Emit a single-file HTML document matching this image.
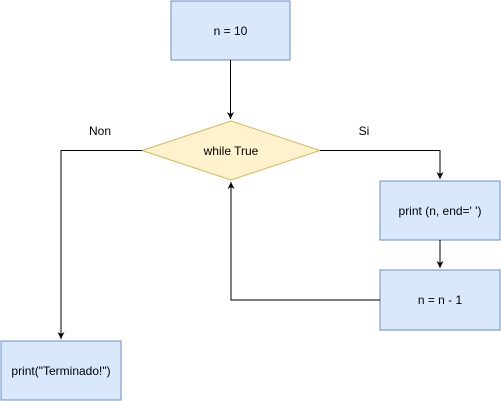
<!DOCTYPE html>
<html><head><style>html,body{margin:0;padding:0;background:#fff;}</style></head><body>
<svg width="501" height="401" xmlns="http://www.w3.org/2000/svg" style="display:block">
<defs><marker id="a" markerWidth="8" markerHeight="8" refX="7" refY="4" orient="auto" markerUnits="userSpaceOnUse"><path d="M0,0.5 L7,4 L0,7.5 L2,4 Z" fill="#000"/></marker></defs>
<g font-family="Liberation Sans, sans-serif" font-size="12" text-anchor="middle">
<rect x="171" y="1" width="119" height="59" fill="#dae8fc" stroke="#6c8ebf"/>
<text x="230.5" y="35">n = 10</text>
<polygon points="231,121 320,150.5 231,180 142,150.5" fill="#fff2cc" stroke="#d6b656"/>
<text x="231" y="155">while True</text>
<rect x="380" y="181" width="120" height="59" fill="#dae8fc" stroke="#6c8ebf"/>
<text x="440" y="215">print (n, end=' ')</text>
<rect x="380" y="270" width="120" height="60" fill="#dae8fc" stroke="#6c8ebf"/>
<text x="440" y="304">n = n - 1</text>
<rect x="1" y="341" width="120" height="59" fill="#dae8fc" stroke="#6c8ebf"/>
<text x="61" y="375">print("Terminado!")</text>
<text x="100" y="135">Non</text>
<text x="364" y="135">Si</text>
</g>
<g stroke="#000" fill="none">
<path d="M230.5 60 V119" marker-end="url(#a)"/>
<path d="M320 150.5 H440 V179" marker-end="url(#a)"/>
<path d="M440 240 V268" marker-end="url(#a)"/>
<path d="M380 300 H231 V182" marker-end="url(#a)"/>
<path d="M142 150.5 H61 V339" marker-end="url(#a)"/>
</g>
</svg>
</body></html>
